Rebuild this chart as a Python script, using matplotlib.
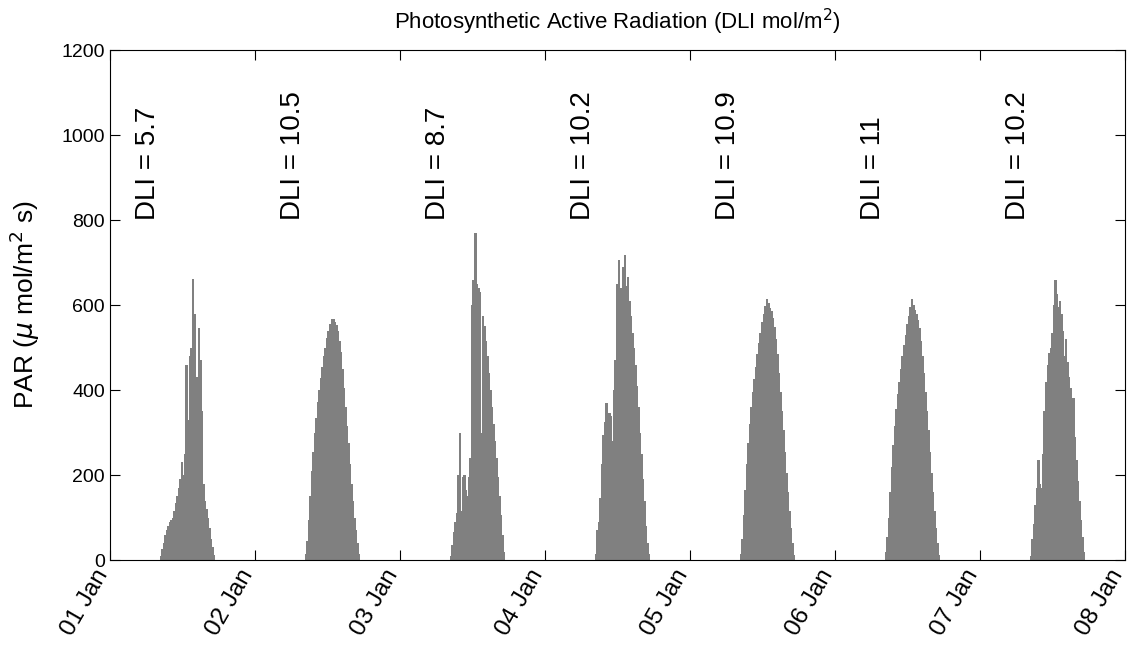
import numpy as np
import pandas as pd
import matplotlib
matplotlib.use("Agg")
import matplotlib.pyplot as plt
import matplotlib.dates as mdates
import matplotlib.transforms as mtransforms

# PAR readings, 15 min bins from 08:15 to 17:15 for each day (umol/m2 s)
par_jan01 = [10, 25, 40, 58, 70, 80, 90, 95, 100, 115, 135, 150, 170, 190, 230, 200, 250, 460,
             330, 480, 500, 662, 580, 180, 430, 545, 470, 350, 180, 140, 120, 100, 75, 50, 30, 12]
par_jan02 = [15, 45, 95, 150, 210, 255, 300, 335, 372, 400, 428, 455, 480, 500, 522, 540, 555, 566,
             568, 560, 553, 540, 515, 490, 450, 405, 360, 315, 275, 225, 180, 140, 100, 70, 40, 15]
par_jan03 = [10, 35, 65, 90, 110, 200, 300, 115, 195, 200, 165, 150, 195, 240, 600, 660, 770, 650,
             640, 630, 300, 575, 550, 515, 480, 440, 400, 360, 320, 280, 240, 195, 150, 105, 60, 20]
par_jan04 = [15, 70, 90, 145, 225, 295, 325, 370, 315, 345, 340, 280, 400, 470, 650, 705, 640, 420,
             690, 718, 645, 665, 610, 575, 535, 500, 460, 410, 360, 300, 250, 190, 140, 80, 40, 15]
par_jan05 = [15, 50, 105, 165, 225, 275, 320, 360, 395, 425, 455, 485, 510, 535, 560, 580, 598, 615,
             605, 592, 585, 570, 548, 520, 485, 440, 395, 350, 305, 255, 205, 160, 115, 75, 40, 12]
par_jan06 = [20, 55, 100, 160, 220, 270, 315, 355, 390, 420, 450, 480, 505, 530, 555, 575, 595, 613,
             600, 588, 580, 565, 545, 515, 480, 440, 395, 350, 305, 255, 205, 160, 115, 75, 40, 12]
par_jan07 = [10, 50, 85, 130, 170, 236, 180, 170, 250, 350, 420, 460, 486, 500, 535, 600, 660, 625,
             595, 610, 580, 540, 480, 520, 465, 430, 405, 330, 381, 290, 235, 185, 140, 95, 55, 20]

dli_values = ["5.7", "10.5", "8.7", "10.2", "10.9", "11", "10.2"]

days = pd.date_range("2013-01-01", periods=7, freq="D")
all_days = [par_jan01, par_jan02, par_jan03, par_jan04, par_jan05, par_jan06, par_jan07]

plt.rcParams['font.family'] = ['Liberation Sans', 'DejaVu Sans']

fig = plt.figure(figsize=(11.29, 6.46), dpi=100)
ax = fig.add_axes([0.0974, 0.1331, 0.8991, 0.7895])

# one filled step outline per day, bins of 15 min starting 08:15
for day, vals in zip(days, all_days):
    edges = pd.date_range(day + pd.Timedelta(hours=8, minutes=15), periods=len(vals) + 1, freq="15min")
    ax.stairs(vals, mdates.date2num(edges), fill=True, facecolor='#808080',
              edgecolor='#808080', linewidth=0.6, antialiased=False)

for day, dli in zip(days, dli_values):
    ax.text(mdates.date2num(day) + 0.26, 800, "DLI = " + dli, rotation=90,
            ha='center', va='bottom', fontsize=20)

ax.set_xlim(mdates.date2num(days[0]), mdates.date2num(days[-1] + pd.Timedelta(days=1)))
ax.set_ylim(0, 1200)
ax.set_yticks([0, 200, 400, 600, 800, 1000, 1200])
ax.xaxis.set_major_locator(mdates.DayLocator())
ax.xaxis.set_major_formatter(mdates.DateFormatter('%d %b'))
ax.tick_params(direction='in', top=True, right=True, length=7)
ax.tick_params(axis='y', labelsize=14)
ax.tick_params(axis='x', labelsize=17.5, pad=4)
shift = mtransforms.ScaledTranslation(-0.16, 0, fig.dpi_scale_trans)
for lbl in ax.get_xticklabels():
    lbl.set_rotation(60)
    lbl.set_ha('right')
    lbl.set_rotation_mode('anchor')
    lbl.set_transform(lbl.get_transform() + shift)

ax.set_ylabel(r'PAR ($\mu$ mol/m$^2$ s)', fontsize=19, labelpad=14)
ax.set_title('Photosynthetic Active Radiation (DLI mol/m$^2$)', fontsize=16, pad=15)

fig.savefig('out.png', dpi=100)
